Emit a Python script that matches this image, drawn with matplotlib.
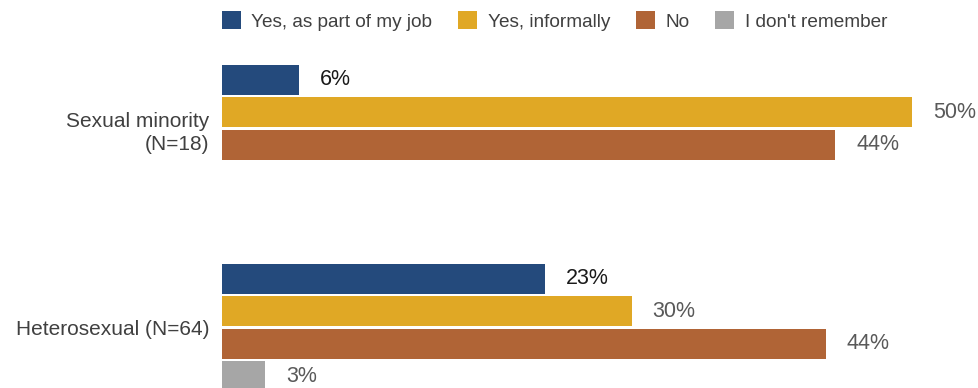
import numpy as np
import matplotlib.pyplot as plt
from matplotlib.patches import Patch

plt.rcParams['font.family'] = ['Liberation Sans', 'DejaVu Sans']

groups = ["Sexual minority\n(N=18)", "Heterosexual (N=64)"]
answers = ["Yes, as part of my job", "Yes, informally", "No", "I don't remember"]
colors = ["#244a7c", "#e0a825", "#b06436", "#a6a6a6"]
label_colors = ["#1a1a1a", "#595959", "#595959", "#595959"]

# percentages (1/18, 9/18, 8/18 and 15/64, 19/64, 28/64, 2/64)
minority = [5.56, 50.0, 44.44, 0.0]
hetero = [23.44, 29.69, 43.75, 3.13]
values = [minority, hetero]

fig = plt.figure(figsize=(9.79, 3.88), dpi=100)
ax = fig.add_axes([222 / 979, 0, 1 - 222 / 979, 1])

first = 2.454
group_gap = 6.123
bar_h = 0.91

for g, vals in enumerate(values):
    for i, v in enumerate(vals):
        if v <= 0:
            continue
        y = first + g * group_gap + i
        ax.barh(y, v, height=bar_h, color=colors[i], edgecolor='none')
        ax.annotate(f"{round(v):.0f}%", xy=(v, y), xytext=(15, 0),
                    textcoords='offset points', va='center', ha='left',
                    fontsize=15.5, color=label_colors[i])

ax.set_xlim(0, (979 - 222) / 13.8)
ax.set_ylim(388 / 32.5, 0)
ax.set_xticks([])
ax.set_yticks([first + 1.5 + g * group_gap for g in range(len(groups))])
ax.set_yticklabels(groups, fontsize=15, color="#404040", linespacing=1.3)
ax.tick_params(axis='y', length=0, pad=9)
for s in ax.spines.values():
    s.set_visible(False)

handles = [Patch(facecolor=c, edgecolor='none', label=a) for a, c in zip(answers, colors)]
fig.legend(handles=handles, loc='center left', bbox_to_anchor=(222 / 979, 1 - 21 / 388), ncol=4,
           frameon=False, fontsize=13.7, labelcolor="#404040", handlelength=1.0,
           handleheight=1.1, handletextpad=0.55, columnspacing=1.35,
           borderpad=0, borderaxespad=0)

fig.savefig("out.png", dpi=100)
